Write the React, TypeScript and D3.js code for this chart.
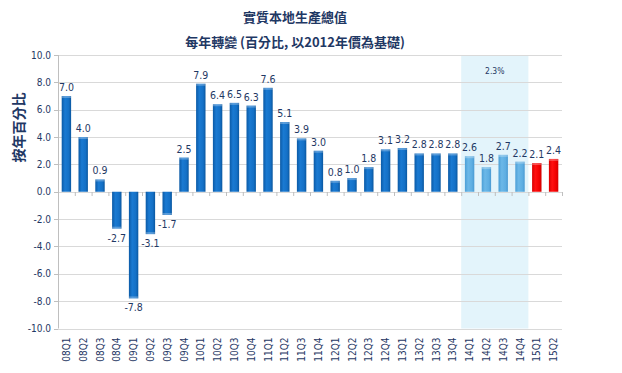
import * as d3 from 'd3';

const quarters = [
  '08Q1', '08Q2', '08Q3', '08Q4', '09Q1', '09Q2', '09Q3', '09Q4',
  '10Q1', '10Q2', '10Q3', '10Q4', '11Q1', '11Q2', '11Q3', '11Q4',
  '12Q1', '12Q2', '12Q3', '12Q4', '13Q1', '13Q2', '13Q3', '13Q4',
  '14Q1', '14Q2', '14Q3', '14Q4', '15Q1', '15Q2',
];
const growth = [
  7.0, 4.0, 0.9, -2.7, -7.8, -3.1, -1.7, 2.5,
  7.9, 6.4, 6.5, 6.3, 7.6, 5.1, 3.9, 3.0,
  0.8, 1.0, 1.8, 3.1, 3.2, 2.8, 2.8, 2.8,
  2.6, 1.8, 2.7, 2.2, 2.1, 2.4,
];
const highlightYear = ['14Q1', '14Q2', '14Q3', '14Q4'];
const latestQuarters = ['15Q1', '15Q2'];
const yTicks = [10, 8, 6, 4, 2, 0, -2, -4, -6, -8, -10];
const yearNote = '2.3%';

const NAVY = '#1f3864';
const FONT = "'DejaVu Sans Condensed', 'DejaVu Sans', sans-serif";
const W = 622;
const H = 373;
const m = { top: 55, right: 60, bottom: 44, left: 58 };

// hyphen minus like the source chart
const fmt = d3.formatLocale({ decimal: '.', thousands: ',', grouping: [3], currency: ['', ''], minus: '-' }).format('.1f');

export default function App() {
  const x = d3.scaleBand<string>().domain(quarters).range([m.left, W - m.right]).paddingInner(0.44).paddingOuter(0.22);
  const band = d3.scaleBand<string>().domain(quarters).range([m.left, W - m.right]);
  const y = d3.scaleLinear().domain([-10, 10]).range([H - m.bottom - 0.5, m.top]);
  const hx0 = band(highlightYear[0]) ?? 0;
  const hx1 = (band(highlightYear[highlightYear.length - 1]) ?? 0) + band.step();

  const fillFor = (q: string) =>
    latestQuarters.includes(q) ? 'url(#gRed)' : highlightYear.includes(q) ? 'url(#gLight)' : 'url(#gDark)';

  return (
    <div style={{ position: 'fixed', left: 0, top: 0 }}>
      <svg width={W} height={H} style={{ display: 'block', background: '#fff' }}>
        <defs>
          <linearGradient id="gDark" x1="0" x2="1" y1="0" y2="0">
            <stop offset="0" stopColor="#0b5aa6" />
            <stop offset="0.35" stopColor="#1a7ad2" />
            <stop offset="0.75" stopColor="#1470c6" />
            <stop offset="1" stopColor="#0a579f" />
          </linearGradient>
          <linearGradient id="gLight" x1="0" x2="1" y1="0" y2="0">
            <stop offset="0" stopColor="#4c9fd6" />
            <stop offset="0.35" stopColor="#6bb8e8" />
            <stop offset="0.75" stopColor="#5eaee2" />
            <stop offset="1" stopColor="#4a9ad2" />
          </linearGradient>
          <linearGradient id="gRed" x1="0" x2="1" y1="0" y2="0">
            <stop offset="0" stopColor="#d80000" />
            <stop offset="0.35" stopColor="#ff1010" />
            <stop offset="0.75" stopColor="#f20000" />
            <stop offset="1" stopColor="#d00000" />
          </linearGradient>
        </defs>

        {/* 2014 shading */}
        <rect x={hx0} y={m.top} width={hx1 - hx0} height={y(-10) - m.top} fill="#e3f4fb" />
        <text x={(hx0 + hx1) / 2} y={74} textAnchor="middle" fontFamily={FONT} fontSize={8.5} fill={NAVY}>
          {yearNote}
        </text>

        {/* grid */}
        {yTicks.map((t) => (
          <g key={t}>
            <line x1={m.left} x2={W - m.right} y1={Math.round(y(t)) + 0.5} y2={Math.round(y(t)) + 0.5} stroke="#d9d9d9" strokeWidth={1} />
            <line x1={m.left - 4} x2={m.left} y1={Math.round(y(t)) + 0.5} y2={Math.round(y(t)) + 0.5} stroke="#bfbfbf" />
            <text x={m.left - 7} y={y(t)} dy="0.35em" textAnchor="end" fontFamily={FONT} fontSize={10} fill={NAVY}>
              {fmt(t)}
            </text>
          </g>
        ))}
        <line x1={m.left + 0.5} x2={m.left + 0.5} y1={m.top} y2={y(-10)} stroke="#bfbfbf" />
        {quarters.map((q) => (
          <line key={'t' + q} x1={(band(q) ?? 0) + band.step() + 0.5} x2={(band(q) ?? 0) + band.step() + 0.5} y1={Math.round(y(0))} y2={Math.round(y(0)) + 4} stroke="#bfbfbf" />
        ))}

        {/* bars */}
        {quarters.map((q, i) => {
          const v = growth[i];
          const top = y(Math.max(v, 0));
          const h = Math.abs(y(v) - y(0));
          const bx = x(q) ?? 0;
          const capY = v >= 0 ? top : y(v) - 2;
          return (
            <g key={q}>
              <rect x={bx} y={top} width={x.bandwidth()} height={h} fill={fillFor(q)} />
              <rect x={bx} y={capY} width={x.bandwidth()} height={2} fill="#ffffff" opacity={0.28} />
              <text
                x={bx + x.bandwidth() / 2}
                y={v >= 0 ? y(v) - 5 : y(v) + 13}
                textAnchor="middle"
                fontFamily={FONT}
                fontSize={10.5}
                fill={NAVY}
              >
                {fmt(v)}
              </text>
            </g>
          );
        })}

        {/* category labels */}
        {quarters.map((q) => {
          const cx = (band(q) ?? 0) + band.step() / 2;
          return (
            <text key={'l' + q} transform={`translate(${cx + 3.5},${y(-10) + 9}) rotate(-90)`} textAnchor="end" fontFamily={FONT} fontSize={10} fill={NAVY}>
              {q}
            </text>
          );
        })}

        {/* titles */}
        <text x={295} y={22} textAnchor="middle" fontFamily="'Noto Sans CJK TC', sans-serif" fontWeight="bold" fontSize={13} fill={NAVY}>
          實質本地生產總值
        </text>
        <text x={295} y={47} textAnchor="middle" fontFamily="'Noto Sans CJK TC', sans-serif" fontWeight="bold" fontSize={13} fill={NAVY}>
          每年轉變 (百分比, 以2012年價為基礎)
        </text>
        <text transform={`translate(24,${(y(10) + y(0)) / 2 + 4}) rotate(-90)`} textAnchor="middle" fontFamily="'Noto Sans CJK TC', sans-serif" fontWeight="bold" fontSize={14} fill={NAVY}>
          按年百分比
        </text>
      </svg>
    </div>
  );
}
